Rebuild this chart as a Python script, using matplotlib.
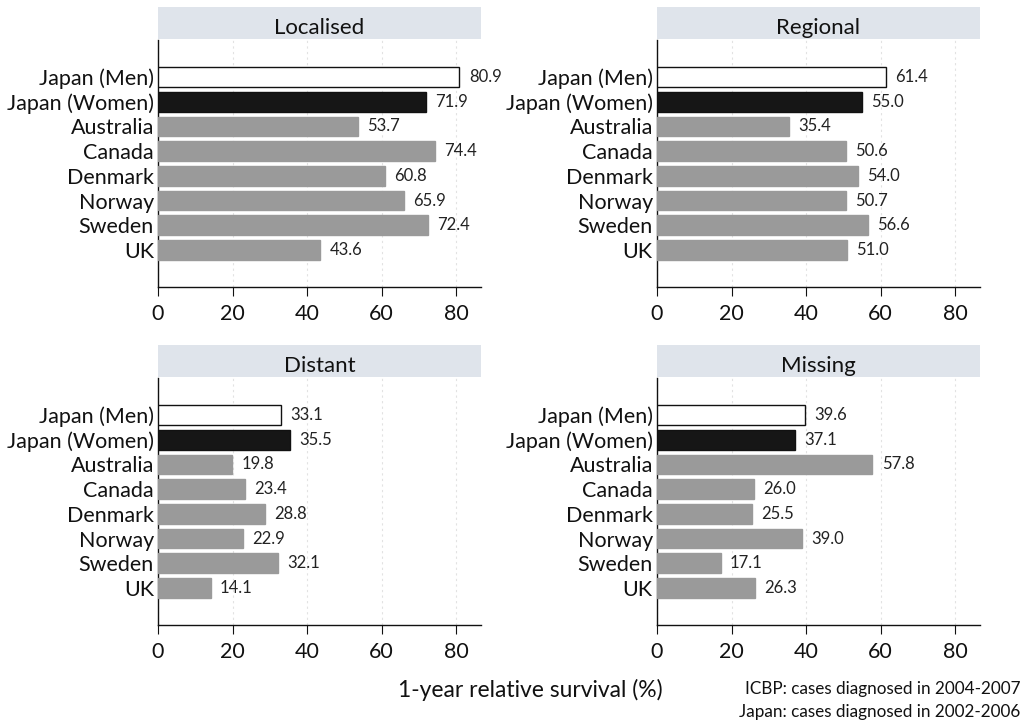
import numpy as np
import matplotlib.pyplot as plt
from matplotlib.patches import Rectangle

plt.rcParams['font.family'] = ['Lato', 'DejaVu Sans']

countries = ['Japan (Men)', 'Japan (Women)', 'Australia', 'Canada',
             'Denmark', 'Norway', 'Sweden', 'UK']
stages = ['Localised', 'Regional', 'Distant', 'Missing']

localised = [80.9, 71.9, 53.7, 74.4, 60.8, 65.9, 72.4, 43.6]
regional = [61.4, 55.0, 35.4, 50.6, 54.0, 50.7, 56.6, 51.0]
distant = [33.1, 35.5, 19.8, 23.4, 28.8, 22.9, 32.1, 14.1]
missing = [39.6, 37.1, 57.8, 26.0, 25.5, 39.0, 17.1, 26.3]

xticks = [0, 20, 40, 60, 80]

face_colors = ['white', '#161616'] + ['#9a9a9a'] * 6
edge_colors = ['#111111', '#111111'] + ['#9a9a9a'] * 6

fig = plt.figure(figsize=(10.33, 7.22), dpi=100)

# panel placement (figure fractions)
W = 0.3127
H = 0.3421
lefts = [0.1530, 0.6360]
bottoms = [0.6025, 0.1343]
band_h = 32 / 722

panels = [(stages[0], localised, lefts[0], bottoms[0]),
          (stages[1], regional, lefts[1], bottoms[0]),
          (stages[2], distant, lefts[0], bottoms[1]),
          (stages[3], missing, lefts[1], bottoms[1])]

ypos = np.arange(len(countries))

for title, vals, l, b in panels:
    ax = fig.add_axes([l, b, W, H])
    ax.barh(ypos, vals, height=0.8, color=face_colors,
            edgecolor=edge_colors, linewidth=1.0, zorder=3)
    for y, v in zip(ypos, vals):
        ax.text(v + 2.5, y, f'{v:.1f}', va='center', ha='left',
                fontsize=12, color='#222222')
    ax.set_xlim(0, 86.7)
    ax.set_ylim(len(countries) + 0.5, -1.5)
    ax.set_yticks(ypos)
    ax.set_yticklabels(countries, fontsize=15.5, color='#111111')
    ax.tick_params(axis='y', length=0, pad=3)
    ax.set_xticks(xticks)
    ax.tick_params(axis='x', labelsize=15.5, length=6.5, direction='out',
                   pad=6, colors='#111111')
    for s in ['top', 'right']:
        ax.spines[s].set_visible(False)
    for s in ['left', 'bottom']:
        ax.spines[s].set_color('#111111')
        ax.spines[s].set_linewidth(1.0)
    ax.xaxis.grid(True, color='#e2e2e2', linestyle=(0, (2, 3)),
                  linewidth=0.8, zorder=0)
    ax.set_axisbelow(True)

    # shaded title band above each panel
    top = b + H
    fig.patches.append(Rectangle((l, top + 0.002), W, band_h,
                                 transform=fig.transFigure,
                                 facecolor='#dfe4eb', edgecolor='none'))
    fig.text(l + W / 2, top + 0.002 + band_h / 2 - 0.008, title,
             ha='center', va='center', fontsize=16, color='#111111')

fig.text(0.513, 0.045, '1-year relative survival (%)', ha='center',
         va='center', fontsize=16.5, color='#111111')
fig.text(0.988, 0.046, 'ICBP: cases diagnosed in 2004-2007', ha='right',
         va='center', fontsize=12.3, color='#111111')
fig.text(0.988, 0.014, 'Japan: cases diagnosed in 2002-2006', ha='right',
         va='center', fontsize=12.3, color='#111111')

fig.savefig('out.png', dpi=100, facecolor='white')
